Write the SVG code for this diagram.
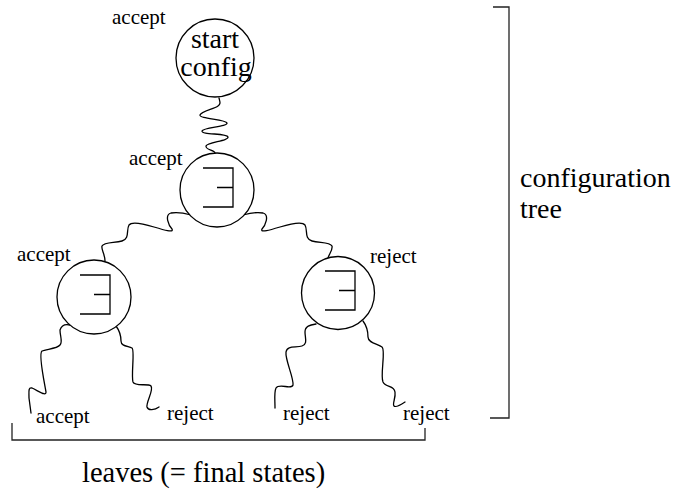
<svg xmlns="http://www.w3.org/2000/svg" width="678" height="495" viewBox="0 0 678 495">
<style>
  .node { fill: #fff; stroke: #000; stroke-width: 1.3; }
  .sym { fill: none; stroke: #000; stroke-width: 1.3; }
  .wave { fill: none; stroke: #000; stroke-width: 1.3; stroke-linecap: round; }
  .brk { fill: none; stroke: #222; stroke-width: 1.3; }
  text { font-family: "Liberation Serif", "DejaVu Serif", "Times New Roman", serif; fill: #000; }
  .lbl { font-size: 21px; }
  .big { font-size: 28.5px; }
  .cfg { font-size: 28px; }
</style>
<defs>
  <path id="exists" d="M-14,-22 H16 V17 H-14 M0,-2.5 H16"/>
</defs>
<rect width="678" height="495" fill="#fff"/>
<g id="connectors">
  <path class="wave" d="M219,98 C220,102 221,104 218,106 C214,109 201,111 200,115 C199,119 226,119 227,123 C228,127 203,127 202,131 C201,135 227,133 228,137 C229,141 207,142 206,146 C205,150 215,150 215,153"/>
  <path class="wave" d="M191,215 C184,213 176,212 171,213 C164,215 169,226 172,229 C174,233 164,230 154,227 C144,224 132,221 129,225 C126,230 130,239 122,241 C114,243 104,242 102,246 C101,250 105,254 105,261"/>
  <path class="wave" d="M243,215 C250,213 258,212 263,213 C270,215 265,226 262,229 C260,233 270,230 280,227 C290,224 302,221 305,225 C308,230 304,239 312,241 C320,243 330,242 332,246 C333,250 329,254 328,258"/>
  <path class="wave" d="M70,325 C66,324 62,324 60,330 C60,336 63,342 60,345 C57,349 46,349 42,351 C38,354 45,385 46,392 C46,396 42,393 32,388 C28,387 29,392 29,398 L31,413"/>
  <path class="wave" d="M116,326 C119,330 121,335 121,341 C121,346 127,346 132,348 C135,350 131,375 133,382 C135,387 148,383 151,386 C154,390 146,402 147,407 C148,411 155,410 159,407"/>
  <path class="wave" d="M316,324 C310,325 305,326 305,332 C305,338 308,344 302,346 C296,348 287,345 286,352 C285,360 294,378 293,385 C292,390 279,383 276,388 C274,392 275,400 275,408"/>
  <path class="wave" d="M363,321 C366,325 368,330 368,337 C368,343 378,344 382,347 C386,350 380,375 383,382 C386,388 394,385 395,392 C396,398 392,404 394,406 C396,408 402,404 405,402"/>
</g>
<g id="start">
  <circle class="node" cx="215" cy="58" r="39"/>
  <text class="cfg" x="215" y="48" text-anchor="middle">start</text>
  <text class="cfg" x="216" y="76" text-anchor="middle">config</text>
  <text class="lbl" x="112" y="24">accept</text>
</g>
<g id="mid">
  <circle class="node" cx="217" cy="190" r="37"/>
  <use href="#exists" class="sym" x="217" y="190"/>
  <text class="lbl" x="129" y="165">accept</text>
</g>
<g id="left">
  <circle class="node" cx="94" cy="297" r="37"/>
  <use href="#exists" class="sym" x="94" y="297"/>
  <text class="lbl" x="17" y="261">accept</text>
</g>
<g id="right">
  <circle class="node" cx="338" cy="293" r="36.5"/>
  <use href="#exists" class="sym" x="339" y="293"/>
  <text class="lbl" x="370" y="263">reject</text>
</g>
<g id="leaves">
  <text class="lbl" x="36" y="423">accept</text>
  <text class="lbl" x="167" y="420">reject</text>
  <text class="lbl" x="283" y="420">reject</text>
  <text class="lbl" x="403" y="420">reject</text>
</g>
<g id="tree-bracket">
  <path class="brk" d="M493,7 H509 V418 H490"/>
  <text class="cfg" x="520" y="187">configuration</text>
  <text class="cfg" x="520" y="218">tree</text>
</g>
<g id="leaves-bracket">
  <path class="brk" d="M12,423 V440 H425 V428"/>
  <text class="big" x="82" y="482">leaves (= final states)</text>
</g>
</svg>
